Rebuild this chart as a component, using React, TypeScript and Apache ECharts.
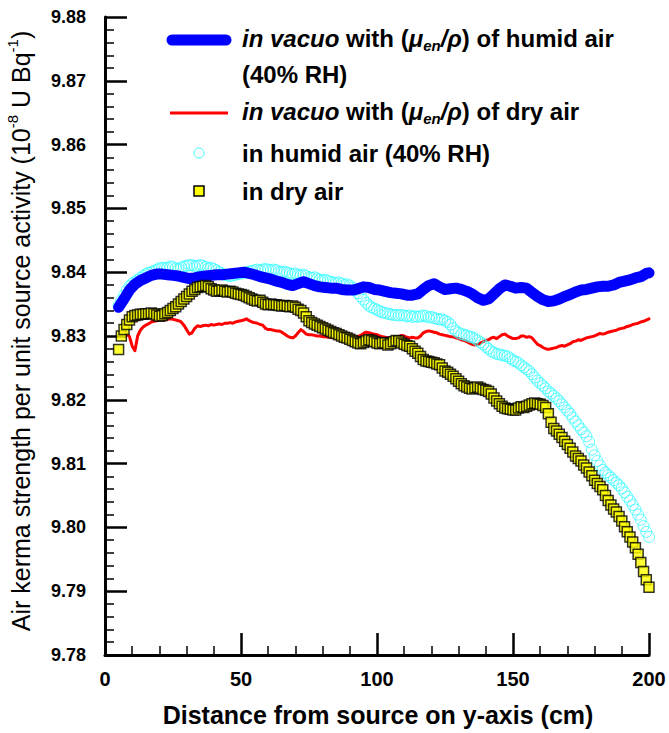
import React, { useEffect, useRef } from "react";
import * as echarts from "echarts";

// Distances along the y-axis (cm) sampled every 1 cm for the measured series
const distances: number[] = Array.from({ length: 196 }, (_, i) => i + 5);
// Sampling grid for the humid-air in-vacuo curve (every 2 cm, plus the 200 cm end)
const vacuoHumidDistances: number[] = [...Array.from({ length: 98 }, (_, i) => 5 + 2 * i), 200];

const xTicks = [0, 50, 100, 150, 200];
const yTicks = [9.78, 9.79, 9.8, 9.81, 9.82, 9.83, 9.84, 9.85, 9.86, 9.87, 9.88];

// in vacuo with (mu_en/rho) of humid air (40% RH)
const vacuoHumid: number[] = [
  9.8345, 9.8358, 9.8372, 9.8381, 9.8387, 9.8391, 9.8395, 9.8397, 9.8397, 9.8396,
  9.8395, 9.8394, 9.8392, 9.839, 9.8391, 9.8393, 9.8394, 9.8395, 9.8396, 9.8396,
  9.8397, 9.8398, 9.8399, 9.84, 9.8398, 9.8396, 9.8393, 9.8391, 9.8389, 9.8386,
  9.8384, 9.8381, 9.8379, 9.8382, 9.8385, 9.8382, 9.8379, 9.8377, 9.8376, 9.8375,
  9.8375, 9.8373, 9.8372, 9.8372, 9.8374, 9.8377, 9.8376, 9.8373, 9.8372, 9.837,
  9.8368, 9.8367, 9.8366, 9.8364, 9.8364, 9.8366, 9.8373, 9.8379, 9.8382, 9.8377,
  9.8373, 9.8374, 9.8375, 9.8373, 9.837, 9.8366, 9.836, 9.8356, 9.8358, 9.8366,
  9.8374, 9.838, 9.8378, 9.8375, 9.8376, 9.8375, 9.8368, 9.8362, 9.8357, 9.8354,
  9.8355, 9.8358, 9.8362, 9.8365, 9.8369, 9.8372, 9.8373, 9.8375, 9.8377, 9.8378,
  9.8378, 9.838, 9.8384, 9.8386, 9.8388, 9.8391, 9.8393, 9.8398, 9.8399,
];

// in vacuo with (mu_en/rho) of dry air
const vacuoDry: (number | null)[] = [
  null, null, null, 9.8303, 9.8299, 9.8284, 9.8277, 9.83, 9.8309, 9.8314,
  9.8317, 9.8319, 9.8322, 9.8323, 9.8324, 9.8325, 9.8326, 9.8325, 9.8326, 9.8327,
  9.8326, 9.8325, 9.8324, 9.8322, 9.8317, 9.831, 9.8303, 9.8305, 9.8312, 9.8316,
  9.8315, 9.8316, 9.8317, 9.8316, 9.8318, 9.8317, 9.8318, 9.8319, 9.8318, 9.832,
  9.832, 9.8321, 9.832, 9.8322, 9.8323, 9.8324, 9.8325, 9.8327, 9.8324, 9.8322,
  9.8321, 9.832, 9.8318, 9.8317, 9.8312, 9.831, 9.831, 9.8309, 9.8308, 9.8308,
  9.8306, 9.8303, 9.83, 9.8298, 9.8297, 9.83, 9.8305, 9.831, 9.8307, 9.8303,
  9.8302, 9.8302, 9.8301, 9.83, 9.83, 9.8299, 9.8299, 9.8298, 9.8298, 9.8297,
  9.8297, 9.8296, 9.8296, 9.8297, 9.8298, 9.8297, 9.8298, 9.8299, 9.8299, 9.8301,
  9.8304, 9.8306, 9.8305, 9.8304, 9.8303, 9.8302, 9.83, 9.8299, 9.8298, 9.8297,
  9.8296, 9.8296, 9.8297, 9.8299, 9.8301, 9.83, 9.8298, 9.8297, 9.8298, 9.8297,
  9.8297, 9.83, 9.8305, 9.8307, 9.8308, 9.8307, 9.8306, 9.8305, 9.8303, 9.8302,
  9.8301, 9.83, 9.8299, 9.8299, 9.8297, 9.8296, 9.8294, 9.8293, 9.8291, 9.8289,
  9.8287, 9.8286, 9.8287, 9.8289, 9.8291, 9.8293, 9.8294, 9.8297, 9.8298, 9.8296,
  9.8299, 9.8302, 9.8303, 9.83, 9.8298, 9.8296, 9.8296, 9.8297, 9.83, 9.83,
  9.8298, 9.8299, 9.8297, 9.8292, 9.8287, 9.8285, 9.8282, 9.828, 9.8279, 9.828,
  9.8281, 9.8282, 9.8284, 9.8285, 9.8284, 9.8286, 9.8288, 9.8291, 9.8292, 9.8294,
  9.8293, 9.8295, 9.8297, 9.8298, 9.8299, 9.83, 9.8302, 9.8304, 9.8303, 9.8304,
  9.8306, 9.8307, 9.8308, 9.8309, 9.8311, 9.8312, 9.8313, 9.8315, 9.8316, 9.8318,
  9.8319, 9.832, 9.8322, 9.8323, 9.8325, 9.8327,
];

// in humid air (40% RH)
const humidAir: number[] = [
  9.8348, 9.8356, 9.8364, 9.8372, 9.8378, 9.8382, 9.8385, 9.8388, 9.8391, 9.8394,
  9.8397, 9.8399, 9.84, 9.8402, 9.8404, 9.8406, 9.8407, 9.8406, 9.8407, 9.8409,
  9.8408, 9.8406, 9.8405, 9.8407, 9.8409, 9.841, 9.8411, 9.8411, 9.8409, 9.841,
  9.8411, 9.841, 9.8408, 9.8406, 9.8407, 9.8405, 9.8403, 9.84, 9.8398, 9.8396,
  9.8395, 9.8394, 9.8395, 9.8396, 9.8397, 9.8398, 9.8399, 9.84, 9.8401, 9.8402,
  9.8403, 9.8404, 9.8403, 9.8404, 9.8405, 9.8404, 9.8403, 9.8404, 9.8403, 9.8401,
  9.84, 9.8401, 9.8399, 9.8398, 9.8397, 9.8398, 9.8396, 9.8395, 9.8396, 9.8394,
  9.8392, 9.8391, 9.8392, 9.839, 9.8388, 9.8387, 9.8388, 9.8386, 9.8385, 9.8384,
  9.8383, 9.8384, 9.8382, 9.838, 9.8381, 9.8379, 9.8376, 9.8372, 9.8367, 9.8362,
  9.8357, 9.8352, 9.8348, 9.8345, 9.8343, 9.8341, 9.8339, 9.8337, 9.8336, 9.8335,
  9.8334, 9.8333, 9.8333, 9.8332, 9.8333, 9.8332, 9.8331, 9.8332, 9.833, 9.8331,
  9.833, 9.8331, 9.8332, 9.8331, 9.8329, 9.833, 9.8328, 9.8327, 9.8326, 9.8326,
  9.8324, 9.8322, 9.8318, 9.8312, 9.8308, 9.8305, 9.8303, 9.8302, 9.8301, 9.8299,
  9.8298, 9.8296, 9.8293, 9.829, 9.8287, 9.8283, 9.828, 9.8276, 9.8274, 9.8272,
  9.8271, 9.827, 9.8269, 9.8268, 9.8265, 9.8262, 9.826, 9.8258, 9.8254, 9.8251,
  9.8248, 9.8245, 9.824, 9.8235, 9.823, 9.8226, 9.8222, 9.8218, 9.8213, 9.821,
  9.8206, 9.8202, 9.8198, 9.8193, 9.8188, 9.8183, 9.8178, 9.8172, 9.8166, 9.816,
  9.8154, 9.8149, 9.8143, 9.8134, 9.8122, 9.8113, 9.8104, 9.8097, 9.809, 9.8086,
  9.8082, 9.8078, 9.8074, 9.807, 9.8066, 9.8061, 9.8055, 9.8048, 9.8042, 9.8035,
  9.8028, 9.802, 9.8012, 9.8002, 9.7993, 9.7985,
];

// in dry air
const dryAir: number[] = [
  9.8279, 9.83, 9.831, 9.8318, 9.8325, 9.833, 9.8332, 9.8333, 9.8334, 9.8334,
  9.8335, 9.8335, 9.8336, 9.8335, 9.8333, 9.8331, 9.8332, 9.8335, 9.8337, 9.834,
  9.8343, 9.8346, 9.835, 9.8354, 9.8358, 9.8362, 9.8366, 9.837, 9.8373, 9.8376,
  9.8377, 9.8378, 9.8379, 9.8377, 9.8374, 9.8372, 9.837, 9.8371, 9.8372, 9.837,
  9.8369, 9.837, 9.8369, 9.8367, 9.8366, 9.8365, 9.8364, 9.8362, 9.836, 9.8358,
  9.8356, 9.8355, 9.8356, 9.8353, 9.835, 9.8349, 9.835, 9.8349, 9.8349, 9.8348,
  9.8347, 9.8348, 9.8347, 9.8346, 9.8347, 9.8345, 9.8342, 9.834, 9.8336, 9.833,
  9.8324, 9.8321, 9.8319, 9.8317, 9.8315, 9.8313, 9.8311, 9.8309, 9.8307, 9.8305,
  9.8304, 9.8302, 9.83, 9.8298, 9.8297, 9.8295, 9.8293, 9.8291, 9.8289, 9.8288,
  9.829, 9.8292, 9.8294, 9.8293, 9.8291, 9.8289, 9.8288, 9.829, 9.8289, 9.8286,
  9.8288, 9.8291, 9.8293, 9.8292, 9.8289, 9.8287, 9.8285, 9.8284, 9.828, 9.8276,
  9.8273, 9.8268, 9.8263, 9.8261, 9.826, 9.8259, 9.8258, 9.8256, 9.8255, 9.825,
  9.8245, 9.8243, 9.824, 9.8237, 9.8233, 9.8229, 9.8225, 9.8222, 9.822, 9.8218,
  9.8217, 9.8219, 9.822, 9.8218, 9.8216, 9.8215, 9.8213, 9.8209, 9.8203, 9.8198,
  9.8194, 9.819, 9.8187, 9.8186, 9.8185, 9.8184, 9.8184, 9.8187, 9.8189, 9.8188,
  9.819, 9.8192, 9.8194, 9.8195, 9.8194, 9.8193, 9.8191, 9.8188, 9.8178, 9.8165,
  9.8155, 9.8151, 9.8146, 9.8141, 9.8135, 9.813, 9.8124, 9.8118, 9.8112, 9.8108,
  9.8104, 9.8098, 9.8093, 9.8087, 9.8081, 9.8074, 9.8069, 9.8064, 9.8059, 9.805,
  9.8042, 9.8035, 9.8029, 9.8024, 9.8017, 9.801, 9.8001, 9.7993, 9.7985, 9.7977,
  9.7968, 9.7958, 9.7945, 9.7931, 9.7918, 9.7906,
];

const FONT = '"Liberation Sans", Arial, Helvetica, sans-serif';

export default function App() {
  const ref = useRef<HTMLDivElement>(null);

  useEffect(() => {
    document.body.style.margin = "0";
    if (!ref.current) return;
    const chart = echarts.init(ref.current, null, { renderer: "svg" });

    const gridLeft = 105;
    const gridTop = 17;
    const gridW = 544;
    const gridH = 638;

    const LEG_FS = 24;
    const legendRich = {
      i: { fontStyle: "italic", fontWeight: "bold", fontSize: LEG_FS, fontFamily: FONT, lineHeight: 30 },
      sub: {
        fontStyle: "italic",
        fontWeight: "bold",
        fontSize: 15,
        fontFamily: FONT,
        lineHeight: 15,
        verticalAlign: "bottom",
      },
    };
    const legendText = (text: string, x: number, y: number) => ({
      type: "text",
      x,
      y,
      silent: true,
      style: {
        text,
        fill: "#000",
        fontSize: LEG_FS,
        fontWeight: "bold",
        fontFamily: FONT,
        lineHeight: 30,
        align: "left",
        verticalAlign: "middle",
        rich: legendRich,
      },
    });

    const option: any = {
      animation: false,
      backgroundColor: "#fff",
      grid: { left: gridLeft, top: gridTop, width: gridW, height: gridH, containLabel: false },
      xAxis: {
        type: "value",
        min: xTicks[0],
        max: xTicks[xTicks.length - 1],
        interval: xTicks[1] - xTicks[0],
        axisLine: { show: true, onZero: false, lineStyle: { color: "#000", width: 3 } },
        axisTick: { show: true, inside: true, length: 22, lineStyle: { color: "#000", width: 2.5 } },
        minorTick: { show: true, splitNumber: 5, length: 9, lineStyle: { color: "#000", width: 1.5 } },
        splitLine: { show: false },
        axisLabel: {
          margin: 14,
          color: "#000",
          fontSize: 20,
          fontWeight: "bold",
          fontFamily: FONT,
        },
      },
      yAxis: {
        type: "value",
        min: yTicks[0],
        max: yTicks[yTicks.length - 1],
        interval: 0.01,
        axisLine: { show: true, onZero: false, lineStyle: { color: "#000", width: 3 } },
        axisTick: { show: true, inside: true, length: 22, lineStyle: { color: "#000", width: 2.5 } },
        minorTick: { show: true, splitNumber: 5, length: 9, lineStyle: { color: "#000", width: 1.5 } },
        splitLine: { show: false },
        axisLabel: {
          margin: 19,
          color: "#000",
          fontSize: 18,
          fontWeight: "bold",
          fontFamily: FONT,
          formatter: (v: number) => v.toFixed(2),
        },
      },
      series: [
        {
          name: "in vacuo with (μen/ρ) of dry air",
          type: "line",
          showSymbol: false,
          symbol: "none",
          connectNulls: false,
          z: 2,
          lineStyle: { color: "#ff0000", width: 3, join: "round", cap: "round" },
          data: distances.map((d, i) => [d, vacuoDry[i]]),
        },
        {
          name: "in humid air (40% RH)",
          type: "scatter",
          symbol: "circle",
          symbolSize: 11,
          z: 3,
          itemStyle: { color: "rgba(0,0,0,0)", borderColor: "#33ffff", borderWidth: 1 },
          data: distances.map((d, i) => [d, humidAir[i]]),
        },
        {
          name: "in vacuo with (μen/ρ) of humid air (40% RH)",
          type: "line",
          showSymbol: false,
          symbol: "none",
          z: 4,
          lineStyle: { color: "#0000ff", width: 11, join: "round", cap: "round" },
          data: vacuoHumidDistances.map((d, i) => [d, vacuoHumid[i]]),
        },
        {
          name: "in dry air",
          type: "scatter",
          symbol: "rect",
          symbolSize: 10,
          z: 5,
          itemStyle: { color: "#ffff00", borderColor: "#000", borderWidth: 1.5 },
          data: distances.map((d, i) => [d, dryAir[i]]),
        },
      ],
      graphic: [
        // y-axis title
        {
          type: "text",
          x: 21,
          y: 331,
          rotation: Math.PI / 2,
          silent: true,
          style: {
            text: "Air kerma strength per unit source activity (10{sup|-8} U Bq{sup|-1})",
            fill: "#000",
            fontSize: 25,
            fontFamily: FONT,
            lineHeight: 32,
            align: "center",
            verticalAlign: "middle",
            rich: {
              sup: { fontSize: 15, fontFamily: FONT, lineHeight: 15, verticalAlign: "top" },
            },
          },
        },
        // x-axis title
        {
          type: "text",
          x: 378,
          y: 715,
          silent: true,
          style: {
            text: "Distance from source on y-axis (cm)",
            fill: "#000",
            fontSize: 25,
            fontWeight: "bold",
            fontFamily: FONT,
            align: "center",
            verticalAlign: "middle",
          },
        },
        // legend symbols
        {
          type: "line",
          silent: true,
          shape: { x1: 172, y1: 40, x2: 226, y2: 40 },
          style: { stroke: "#0000ff", lineWidth: 11, lineCap: "round" },
        },
        {
          type: "line",
          silent: true,
          shape: { x1: 170, y1: 113, x2: 228, y2: 113 },
          style: { stroke: "#ff0000", lineWidth: 3 },
        },
        {
          type: "circle",
          silent: true,
          shape: { cx: 199, cy: 153, r: 5 },
          style: { fill: "none", stroke: "#33ffff", lineWidth: 1 },
        },
        {
          type: "rect",
          silent: true,
          shape: { x: 194, y: 186, width: 10, height: 10 },
          style: { fill: "#ffff00", stroke: "#000", lineWidth: 1.5 },
        },
        // legend texts
        legendText("{i|in vacuo} with ({i|μ}{sub|en}{i|/ρ}) of humid air", 242, 38),
        legendText("(40% RH)", 242, 74),
        legendText("{i|in vacuo} with ({i|μ}{sub|en}{i|/ρ}) of dry air", 242, 111),
        legendText("in humid air (40% RH)", 242, 153),
        legendText("in dry air", 242, 191),
      ],
    };

    chart.setOption(option);
    return () => chart.dispose();
  }, []);

  return <div ref={ref} style={{ width: 669, height: 733 }} />;
}
